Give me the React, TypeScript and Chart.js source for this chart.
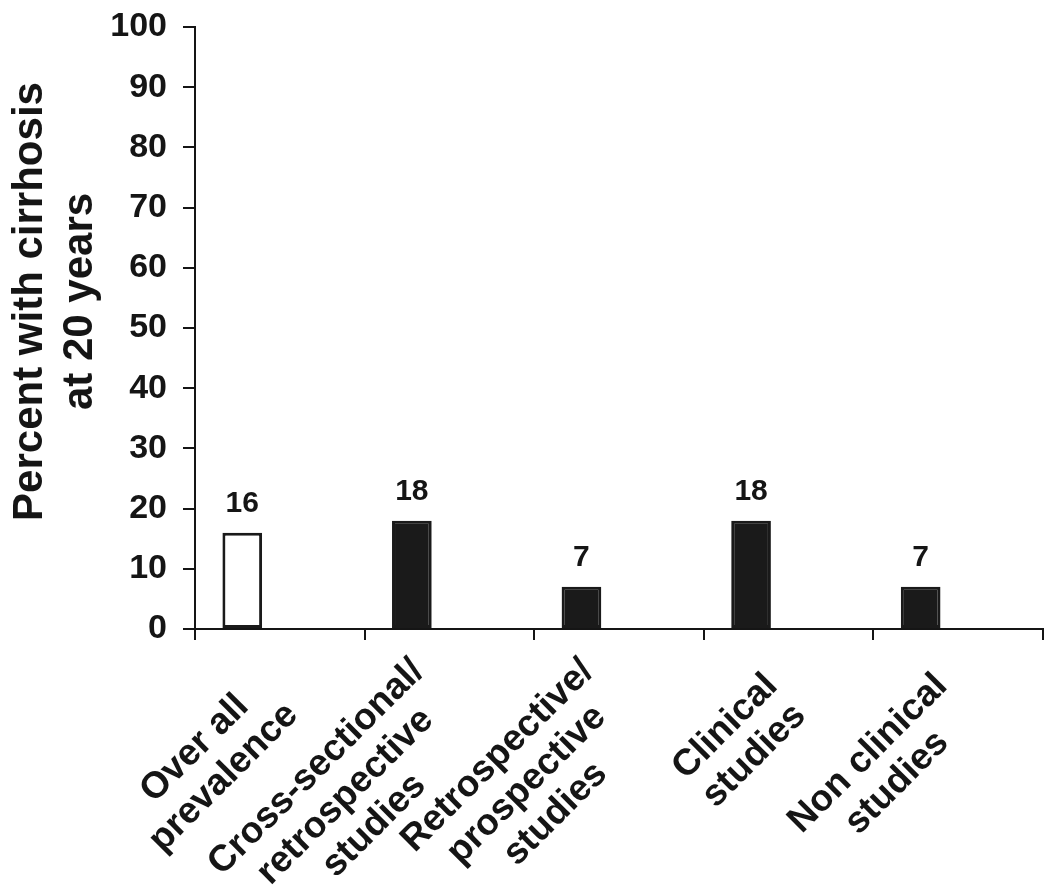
import React, { useEffect, useRef } from 'react';
import { Chart, registerables } from 'chart.js';

Chart.register(...registerables);

// ---- data ----
const categoryLines: string[][] = [
  ['Over all', 'prevalence'],
  ['Cross-sectional/', 'retrospective', 'studies'],
  ['Retrospective/', 'prospective', 'studies'],
  ['Clinical', 'studies'],
  ['Non clinical', 'studies'],
];
const cirrhosisPercent: number[] = [16, 18, 7, 18, 7];
const yAxisMin = 0;
const yAxisMax = 100;
const yAxisStep = 10;
const yTitleLines: string[] = ['Percent with cirrhosis', 'at 20 years'];

// ---- styles ----
const FONT = '"Liberation Sans", Arial, Helvetica, sans-serif';
const INK = '#151515';
const BAR_DARK = '#1a1a1a';

const valueLabelPlugin = {
  id: 'valueLabels',
  afterDatasetsDraw(chart: any) {
    const ctx = chart.ctx;
    const meta = chart.getDatasetMeta(0);
    ctx.save();
    ctx.font = `bold 30px ${FONT}`;
    ctx.fillStyle = INK;
    ctx.textAlign = 'center';
    ctx.textBaseline = 'alphabetic';
    meta.data.forEach((el: any, i: number) => {
      ctx.fillText(String(cirrhosisPercent[i]), el.x, el.y - 21);
    });
    ctx.restore();
  },
};

const xLabelPlugin = {
  id: 'xLabels',
  afterDraw(chart: any) {
    const ctx = chart.ctx;
    const xs = chart.scales.x;
    ctx.save();
    ctx.font = `bold 37px ${FONT}`;
    ctx.fillStyle = INK;
    ctx.textAlign = 'center';
    ctx.textBaseline = 'alphabetic';
    categoryLines.forEach((lines, i) => {
      const ax = xs.getPixelForValue(i) + 5;
      const ay = xs.top + 73;
      const w = Math.max(...lines.map((l) => ctx.measureText(l).width));
      ctx.save();
      ctx.translate(ax, ay);
      ctx.rotate(-Math.PI / 4);
      lines.forEach((line, j) => {
        ctx.fillText(line, -w / 2, (j - (lines.length - 1) / 2) * 41);
      });
      ctx.restore();
    });
    ctx.restore();
  },
};

const yTitlePlugin = {
  id: 'yTitle',
  afterDraw(chart: any) {
    const ctx = chart.ctx;
    const area = chart.chartArea;
    ctx.save();
    ctx.font = `bold 42px ${FONT}`;
    ctx.fillStyle = INK;
    ctx.textAlign = 'center';
    ctx.textBaseline = 'alphabetic';
    ctx.translate(0, area.top + 274.5);
    ctx.rotate(-Math.PI / 2);
    yTitleLines.forEach((line, j) => {
      ctx.fillText(line, 0, 42 + j * 50);
    });
    ctx.restore();
  },
};

export default function App() {
  const canvasRef = useRef<HTMLCanvasElement | null>(null);

  useEffect(() => {
    if (!canvasRef.current) return;
    const chart = new Chart(canvasRef.current, {
      type: 'bar',
      data: {
        labels: categoryLines.map((l) => l.join(' ')),
        datasets: [
          {
            label: 'Percent with cirrhosis at 20 years',
            data: cirrhosisPercent,
            backgroundColor: (c: any) => (c.dataIndex === 0 ? '#ffffff' : BAR_DARK),
            borderColor: BAR_DARK,
            borderWidth: 3,
            borderSkipped: false,
            categoryPercentage: 0.664,
            barPercentage: 1.057,
          },
          // empty placeholder series (as in the original grouped layout)
          { label: 'empty-1', data: [], categoryPercentage: 0.664, barPercentage: 1.057 },
          { label: 'empty-2', data: [], categoryPercentage: 0.664, barPercentage: 1.057 },
        ],
      },
      options: {
        responsive: false,
        animation: false,
        layout: { padding: { left: 0, top: 27, right: 7, bottom: 0 } },
        plugins: {
          legend: { display: false },
          tooltip: { enabled: false },
          title: { display: false },
        },
        scales: {
          x: {
            type: 'category',
            offset: true,
            ticks: { display: false },
            grid: {
              offset: true,
              drawOnChartArea: false,
              drawTicks: true,
              tickLength: 11,
              color: INK,
              lineWidth: 2,
            },
            border: { display: true, color: INK, width: 2 },
            afterFit: (scale: any) => {
              scale.height = 266;
              scale.paddingLeft = 0;
              scale.paddingRight = 0;
            },
          },
          y: {
            min: yAxisMin,
            max: yAxisMax,
            ticks: {
              stepSize: yAxisStep,
              color: INK,
              padding: 16,
              font: { family: FONT, size: 34, weight: 'bold' },
            },
            grid: {
              drawOnChartArea: false,
              drawTicks: true,
              tickLength: 12,
              color: INK,
              lineWidth: 2,
            },
            border: { display: true, color: INK, width: 2 },
            afterFit: (scale: any) => {
              scale.width = 195;
              scale.paddingTop = 0;
              scale.paddingBottom = 0;
            },
          },
        },
      },
      plugins: [valueLabelPlugin, xLabelPlugin, yTitlePlugin],
    } as any);
    return () => chart.destroy();
  }, []);

  return (
    <div style={{ position: 'absolute', left: 0, top: 0, width: 1050, height: 895, background: '#fff' }}>
      <canvas ref={canvasRef} width={1050} height={895} />
    </div>
  );
}
